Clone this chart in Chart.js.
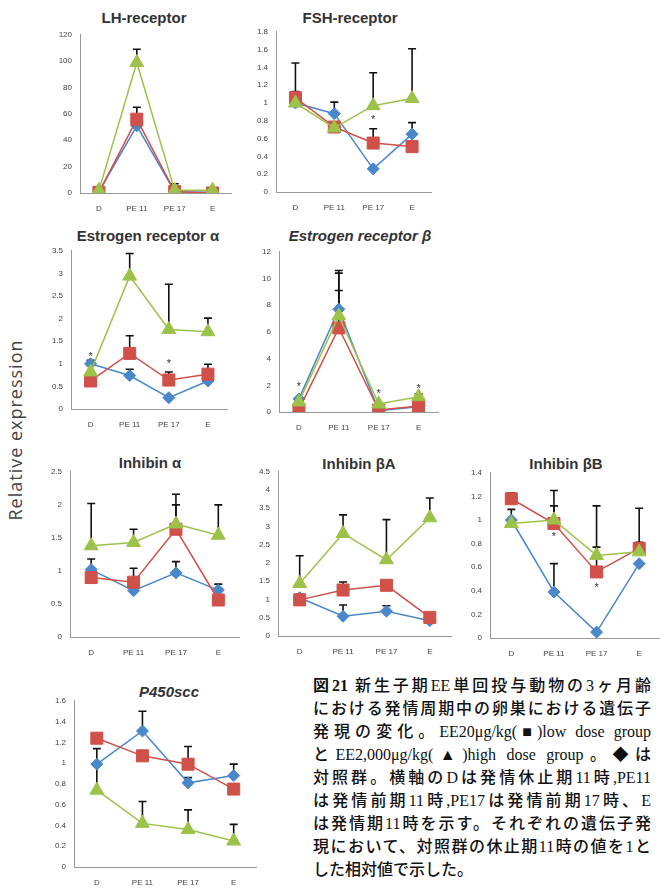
<!DOCTYPE html>
<html lang="ja">
<head>
  <meta charset="UTF-8">
  <title>Relative expression</title>
  <script src="https://cdn.jsdelivr.net/npm/chart.js"></script>
  <style>
    body {
      margin: 0;
      width: 660px;
      height: 889px;
      position: relative;
      overflow: hidden;
      background: #fff;
      font-family: "Liberation Sans", Arial, sans-serif;
    }
    canvas {
      position: absolute;
    }
    .title {
      position: absolute;
      transform: translate(-50%, -50%);
      white-space: nowrap;
      font-size: 15px;
      font-weight: bold;
      color: #333;
    }
    .title.it {
      font-style: italic;
    }
    #ylabel {
      position: absolute;
      left: 15px;
      top: 430px;
      transform: translate(-50%, -50%) rotate(-90deg);
      white-space: nowrap;
      font-family: "Open Sans", sans-serif;
      font-size: 18px;
      letter-spacing: 1px;
      color: #444;
    }
    #caption {
      position: absolute;
      left: 313px;
      top: 674px;
      width: 338px;
      font-family: "Liberation Serif", "Noto Sans CJK JP", serif;
      font-size: 16px;
      font-weight: 500;
      color: #111;
    }
    #caption div {
      height: 23px;
      line-height: 23px;
      text-align: justify;
      text-align-last: justify;
    }
    #caption div.last {
      text-align-last: left;
    }
  </style>
</head>
<body>

<div id="ylabel">Relative expression</div>

<div id="caption">
  <div><b>図21</b> 新生子期EE単回投与動物の3ヶ月齢</div>
  <div>における発情周期中の卵巣における遺伝子</div>
  <div>発現の変化。EE20μg/kg(■)low dose group</div>
  <div>とEE2,000μg/kg(▲)high dose group。◆は</div>
  <div>対照群。横軸のDは発情休止期11時,PE11</div>
  <div>は発情前期11時,PE17は発情前期17時、E</div>
  <div>は発情期11時を示す。それぞれの遺伝子発</div>
  <div>現において、対照群の休止期11時の値を1と</div>
  <div class="last">した相対値で示した。</div>
</div>

<script>
  const categories = ['D', 'PE 11', 'PE 17', 'E'];

  // LH-receptor
  const lhControl = [1, 51, 1, 0.5];
  const lhLow = [0.5, 56, 1, 0];
  const lhHigh = [2, 99, 2, 2];
  const lhErrControl = [null, null, null, null];
  const lhErrLow = [null, 9, null, null];
  const lhErrHigh = [null, 10, 5, null];
  const lhStars = [];

  // FSH-receptor
  const fshControl = [1.0, 0.88, 0.26, 0.65];
  const fshLow = [1.06, 0.73, 0.55, 0.51];
  const fshHigh = [1.0, 0.72, 0.97, 1.05];
  const fshErrControl = [0.13, 0.13, null, 0.13];
  const fshErrLow = [0.39, null, 0.16, null];
  const fshErrHigh = [null, null, 0.37, 0.56];
  const fshStars = [[2, 0.83]];

  // Estrogen receptor α
  const eraControl = [1.0, 0.74, 0.25, 0.62];
  const eraLow = [0.62, 1.23, 0.64, 0.77];
  const eraHigh = [0.82, 2.94, 1.76, 1.71];
  const eraErrControl = [0.08, 0.14, null, null];
  const eraErrLow = [null, 0.39, 0.18, 0.22];
  const eraErrHigh = [null, 0.5, 1.0, 0.3];
  const eraStars = [[0, 1.2], [2, 1.05]];

  // Estrogen receptor β
  const erbControl = [0.98, 7.7, 0.1, 0.4];
  const erbLow = [0.2, 6.3, 0.15, 0.45];
  const erbHigh = [0.75, 7.2, 0.6, 1.15];
  const erbErrControl = [null, 2.9, null, null];
  const erbErrLow = [null, 2.8, null, null];
  const erbErrHigh = [null, 3.2, null, 0.22];
  const erbStars = [[0, 2.0], [2, 1.5], [3, 1.85]];

  // Inhibin α
  const inhaControl = [1.02, 0.70, 0.97, 0.71];
  const inhaLow = [0.90, 0.83, 1.63, 0.56];
  const inhaHigh = [1.38, 1.43, 1.71, 1.54];
  const inhaErrControl = [0.16, null, 0.17, 0.09];
  const inhaErrLow = [null, 0.21, 0.37, null];
  const inhaErrHigh = [0.64, 0.2, 0.45, 0.46];
  const inhaStars = [];

  // Inhibin βA
  const inhbaControl = [1.05, 0.54, 0.68, 0.42];
  const inhbaLow = [0.99, 1.26, 1.39, 0.51];
  const inhbaHigh = [1.44, 2.81, 2.09, 3.24];
  const inhbaErrControl = [0.09, 0.31, 0.15, null];
  const inhbaErrLow = [null, 0.22, null, null];
  const inhbaErrHigh = [0.76, 0.51, 1.1, 0.54];
  const inhbaStars = [];

  // Inhibin βB
  const inhbbControl = [1.0, 0.39, 0.05, 0.63];
  const inhbbLow = [1.18, 0.97, 0.56, 0.76];
  const inhbbHigh = [0.97, 1.0, 0.70, 0.73];
  const inhbbErrControl = [0.09, 0.24, null, null];
  const inhbbErrLow = [0.05, 0.15, 0.21, 0.05];
  const inhbbErrHigh = [null, 0.25, 0.42, 0.37];
  const inhbbStars = [[1, 0.87], [2, 0.44]];

  // P450scc
  const p450Control = [0.99, 1.31, 0.81, 0.88];
  const p450Low = [1.24, 1.07, 0.99, 0.75];
  const p450High = [0.74, 0.42, 0.36, 0.25];
  const p450ErrControl = [null, 0.19, 0.05, 0.11];
  const p450ErrLow = [null, null, 0.17, null];
  const p450ErrHigh = [0.4, 0.21, 0.19, 0.16];
  const p450Stars = [];

  const BLUE = '#4a88cc';
  const RED = '#d0504a';
  const GREEN = '#9dc24a';

  // where each panel sits on the page (axis left, plot width, top, zero line)
  const panels = [
    { title: 'LH-receptor', c: lhControl, l: lhLow, h: lhHigh, ec: lhErrControl, el: lhErrLow, eh: lhErrHigh, stars: lhStars,
      yMax: 120, step: 20, left: 80, w: 157, top: 32, bottom: 193, tx: 144, ty: 17 },
    { title: 'FSH-receptor', c: fshControl, l: fshLow, h: fshHigh, ec: fshErrControl, el: fshErrLow, eh: fshErrHigh, stars: fshStars,
      yMax: 1.8, step: 0.2, left: 276, w: 161, top: 29, bottom: 192, tx: 350, ty: 17 },
    { title: 'Estrogen receptor α', c: eraControl, l: eraLow, h: eraHigh, ec: eraErrControl, el: eraErrLow, eh: eraErrHigh, stars: eraStars,
      yMax: 3.5, step: 0.5, left: 71, w: 162, top: 248, bottom: 409, tx: 148, ty: 235 },
    { title: 'Estrogen receptor β', italic: true, c: erbControl, l: erbLow, h: erbHigh, ec: erbErrControl, el: erbErrLow, eh: erbErrHigh, stars: erbStars,
      yMax: 12, step: 2, left: 279, w: 165, top: 249, bottom: 412, tx: 360, ty: 235 },
    { title: 'Inhibin α', c: inhaControl, l: inhaLow, h: inhaHigh, ec: inhaErrControl, el: inhaErrLow, eh: inhaErrHigh, stars: inhaStars,
      yMax: 2.5, step: 0.5, left: 70, w: 175, top: 469, bottom: 637, tx: 150, ty: 462 },
    { title: 'Inhibin βA', c: inhbaControl, l: inhbaLow, h: inhbaHigh, ec: inhbaErrControl, el: inhbaErrLow, eh: inhbaErrHigh, stars: inhbaStars,
      yMax: 4.5, step: 0.5, left: 278, w: 179, top: 469, bottom: 636, tx: 359, ty: 463 },
    { title: 'Inhibin βB', c: inhbbControl, l: inhbbLow, h: inhbbHigh, ec: inhbbErrControl, el: inhbbErrLow, eh: inhbbErrHigh, stars: inhbbStars,
      yMax: 1.4, step: 0.2, left: 490, w: 176, top: 470, bottom: 638, tx: 566, ty: 463 },
    { title: 'P450scc', italic: true, c: p450Control, l: p450Low, h: p450High, ec: p450ErrControl, el: p450ErrLow, eh: p450ErrHigh, stars: p450Stars,
      yMax: 1.6, step: 0.2, left: 74, w: 188, top: 698, bottom: 867, tx: 169, ty: 691 }
  ];

  const Y_W = 30, PAD_TOP = 10, PAD_RIGHT = 4, X_H = 24;

  function makeMarks(p) {
    return {
      id: 'marks',
      beforeDatasetsDraw(chart) {
        const ctx = chart.ctx;
        const x = chart.scales.x, y = chart.scales.y;
        ctx.save();
        ctx.strokeStyle = '#111';
        ctx.lineWidth = 1.6;
        chart.data.datasets.forEach(ds => {
          ds.errors.forEach((e, j) => {
            if (e == null) return;
            const px = x.getPixelForValue(j);
            const y0 = y.getPixelForValue(ds.data[j]);
            const y1 = y.getPixelForValue(ds.data[j] + e);
            ctx.beginPath();
            ctx.moveTo(px, y0);
            ctx.lineTo(px, y1);
            ctx.moveTo(px - 4, y1);
            ctx.lineTo(px + 4, y1);
            ctx.stroke();
          });
        });
        ctx.restore();
      },
      afterDatasetsDraw(chart) {
        const ctx = chart.ctx;
        const x = chart.scales.x, y = chart.scales.y;
        ctx.save();
        ctx.fillStyle = '#333';
        ctx.font = '11px "Liberation Sans"';
        ctx.textAlign = 'center';
        ctx.textBaseline = 'middle';
        p.stars.forEach(s => {
          ctx.fillText('*', x.getPixelForValue(s[0]), y.getPixelForValue(s[1]) + 2);
        });
        ctx.restore();
      }
    };
  }

  function series(data, errors, color, style, radius) {
    return {
      data, errors,
      borderColor: color,
      backgroundColor: color,
      borderWidth: 1.5,
      pointStyle: style,
      pointRadius: radius,
      pointBackgroundColor: color,
      pointBorderColor: color,
      pointBorderWidth: 1,
      tension: 0
    };
  }

  panels.forEach(p => {
    const t = document.createElement('div');
    t.className = 'title' + (p.italic ? ' it' : '');
    t.textContent = p.title;
    t.style.left = p.tx + 'px';
    t.style.top = p.ty + 'px';
    document.body.appendChild(t);

    const cv = document.createElement('canvas');
    const cw = Y_W + p.w + PAD_RIGHT;
    const ch = PAD_TOP + (p.bottom - p.top) + X_H;
    cv.width = cw;
    cv.height = ch;
    cv.style.width = cw + 'px';
    cv.style.height = ch + 'px';
    cv.style.left = (p.left - Y_W) + 'px';
    cv.style.top = (p.top - PAD_TOP) + 'px';
    document.body.appendChild(cv);

    new Chart(cv, {
      type: 'line',
      data: {
        labels: categories,
        datasets: [
          series(p.h, p.eh, GREEN, 'triangle', 8),
          series(p.l, p.el, RED, 'rect', 8.5),
          series(p.c, p.ec, BLUE, 'rectRot', 6)
        ]
      },
      options: {
        responsive: false,
        animation: false,
        layout: { padding: { top: PAD_TOP, right: PAD_RIGHT, left: 0, bottom: 0 } },
        plugins: { legend: { display: false }, tooltip: { enabled: false } },
        scales: {
          x: {
            offset: true,
            grid: { display: false, drawTicks: false },
            border: { display: true, color: '#999', width: 1 },
            ticks: { padding: 11, color: '#444', font: { size: 8, family: 'Liberation Sans' }, maxRotation: 0 },
            afterFit: s => { s.height = X_H; }
          },
          y: {
            min: 0,
            max: p.yMax,
            grid: { display: false, drawTicks: false },
            border: { display: true, color: '#999', width: 1 },
            ticks: {
              stepSize: p.step,
              padding: 8,
              color: '#444',
              font: { size: 8, family: 'Liberation Sans' },
              callback: v => String(+v.toFixed(2))
            },
            afterFit: s => { s.width = Y_W; }
          }
        }
      },
      plugins: [makeMarks(p)]
    });
  });
</script>

</body>
</html>
